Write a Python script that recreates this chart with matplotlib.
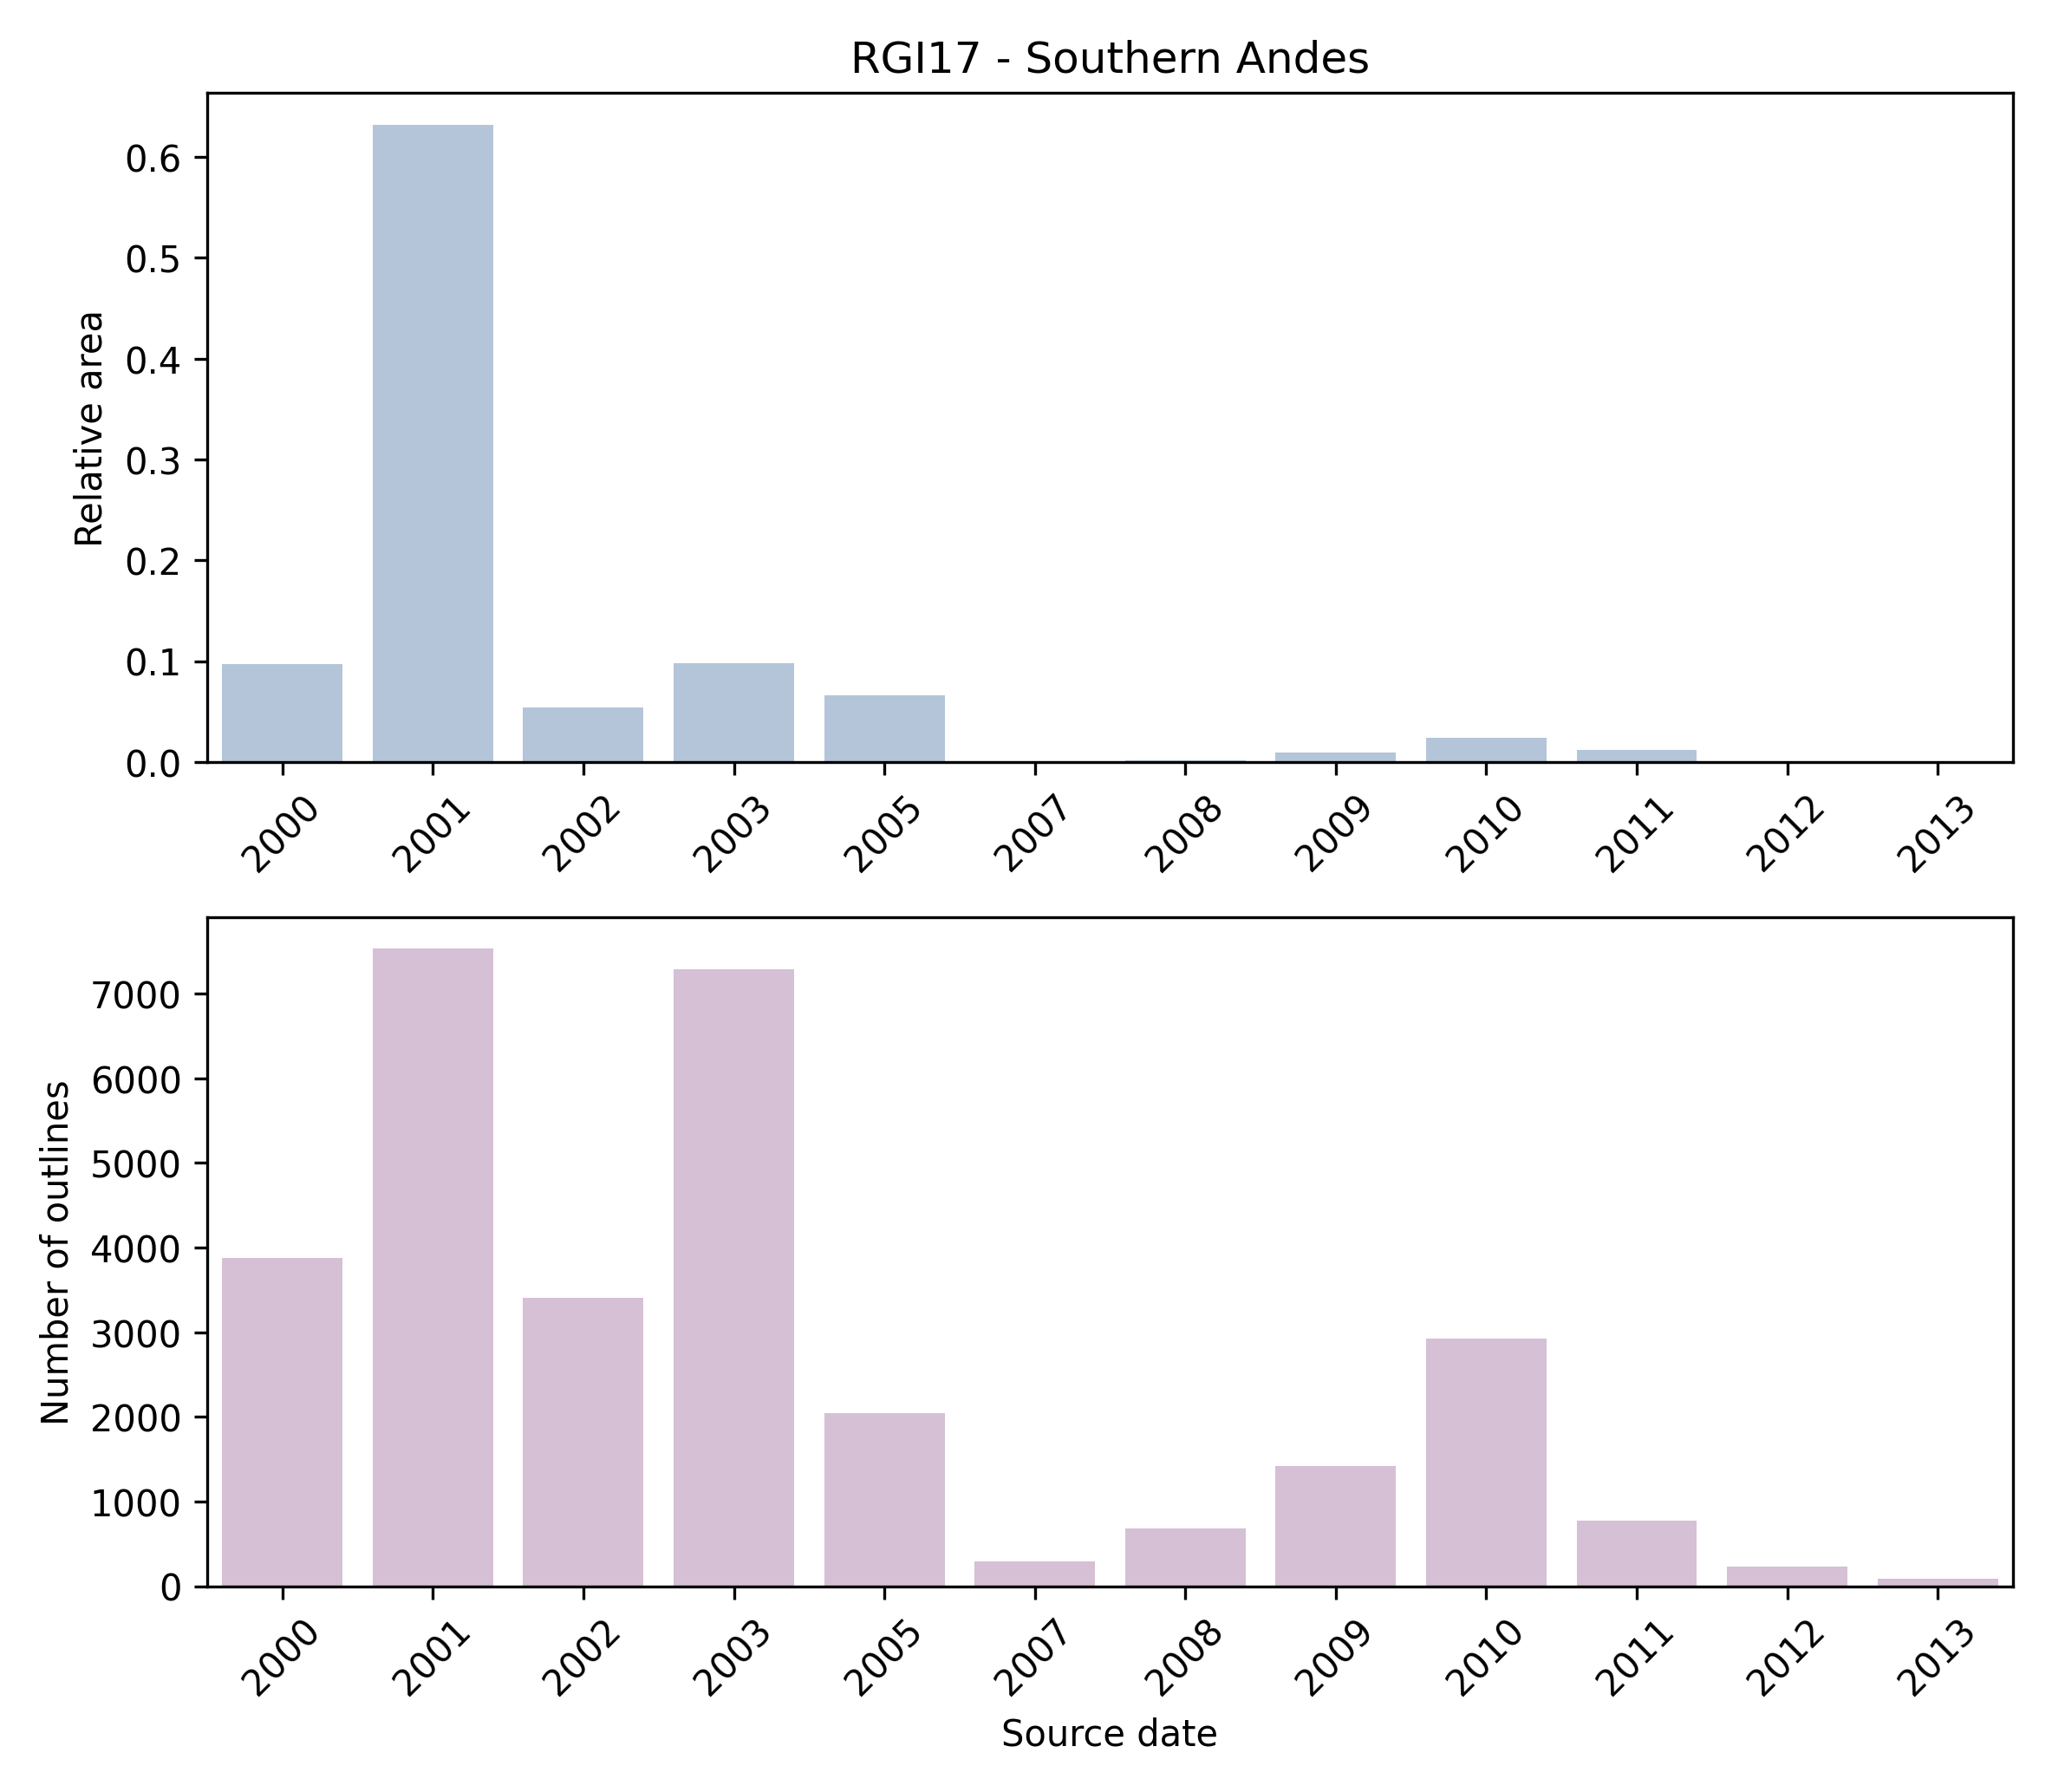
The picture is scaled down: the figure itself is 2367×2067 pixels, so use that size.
import numpy as np
import matplotlib
matplotlib.use('Agg')
from matplotlib import pyplot as plt

years = ['2000', '2001', '2002', '2003', '2005', '2007', '2008', '2009', '2010', '2011', '2012', '2013']
rel_area = [0.097, 0.632, 0.054, 0.098, 0.066, 0.001, 0.002, 0.009, 0.024, 0.012, 0.0005, 0.0003]
n_outlines = [3880, 7530, 3410, 7290, 2040, 290, 680, 1420, 2920, 770, 230, 90]

fig, (ax1, ax2) = plt.subplots(2, 1, figsize=(7.89, 6.893), dpi=300)
x = np.arange(len(years))

ax1.bar(x, rel_area, width=0.8, color='#b5c5d9')
ax1.set_xlim(-0.5, len(years) - 0.5)
ax1.set_xticks(x)
ax1.set_xticklabels(years, rotation=45)
ax1.set_ylabel('Relative area')
ax1.set_title('RGI17 - Southern Andes')

ax2.bar(x, n_outlines, width=0.8, color='#d5c0d5')
ax2.set_xlim(-0.5, len(years) - 0.5)
ax2.set_xticks(x)
ax2.set_xticklabels(years, rotation=45)
ax2.set_ylabel('Number of outlines')
ax2.set_xlabel('Source date')

plt.tight_layout()
plt.savefig('out.png')
